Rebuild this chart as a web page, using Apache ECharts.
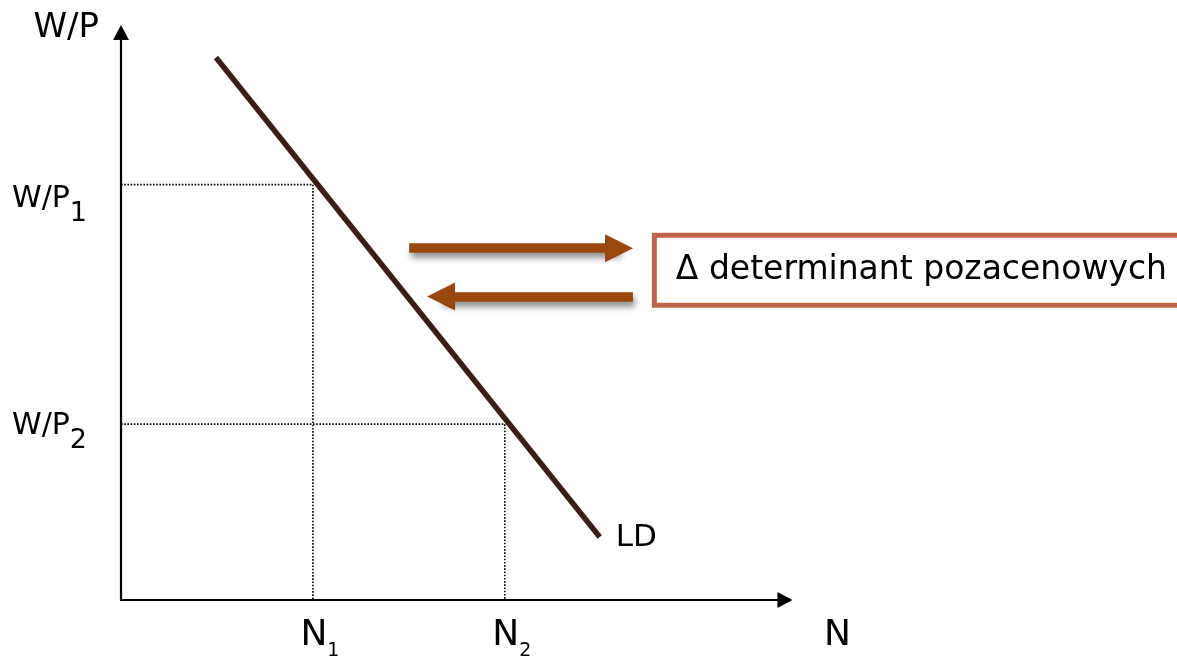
<!DOCTYPE html>
<html>
<head>
<meta charset="utf-8">
<script src="https://cdn.jsdelivr.net/npm/echarts@6/dist/echarts.min.js"></script>
<style>
  html, body { margin: 0; padding: 0; background: #ffffff; }
  #chart { width: 1177px; height: 659px; }
</style>
</head>
<body>
<div id="chart"></div>
<script>
// ---- data (abstract units: N on x 0..100, W/P on y 0..100) ----
const ldCurve = [[14.3, 95.6], [72.1, 11.1]];      // LD line endpoints
const wageLevels = [73.2, 31.0];                    // W/P1, W/P2
const employmentLevels = [28.9, 57.8];              // N1, N2
const levelIndex = ['1', '2'];                      // subscripts
const arrowRight = [[43.4, 62.0], [75.0, 62.0]];
const arrowLeft = [[77.1, 53.5], [48.2, 53.5]];
const boxAnchor = [80.7, 58.1];
const boxText = '\u0394 determinant pozacenowych';
const axisNames = ['W/P', 'N'];
const curveName = 'LD';

const FONT = 'DejaVu Sans';
const INK = '#000000';

// dotted guide lines
const guideSeries = wageLevels.map((w, i) => ({
  type: 'line',
  data: [[0, w], [employmentLevels[i], w], [employmentLevels[i], 0]],
  symbol: 'none',
  silent: true,
  lineStyle: { color: '#000', width: 1.6, type: [1.6, 1.6] },
  z: 2
}));

function plain(text, size, align, offset) {
  return {
    formatter: text, position: [0, 0], align: align, verticalAlign: 'middle',
    offset: offset, fontSize: size, fontFamily: FONT, color: INK,
    textBorderWidth: 0, opacity: 1
  };
}

// label anchors
const labelData = [];
labelData.push({ value: [0, 100], label: plain(axisNames[0], 34, 'right', [-22, -4]) });
const wpOffsets = [21.5, 9];
wageLevels.forEach((w, i) => {
  labelData.push({
    value: [0, w],
    label: {
      formatter: '{m|W/P}{s|' + levelIndex[i] + '}',
      position: [0, 0], align: 'left', verticalAlign: 'middle',
      offset: [-109, wpOffsets[i]], color: INK, textBorderWidth: 0, opacity: 1,
      rich: {
        m: { fontFamily: FONT, fontSize: 30, lineHeight: 30, color: INK, padding: [0, 0, 13.5, 0] },
        s: { fontFamily: FONT, fontSize: 27, lineHeight: 27, color: INK, padding: [16.5, 0, 0, 0] }
      }
    }
  });
});
employmentLevels.forEach((n, i) => {
  labelData.push({
    value: [n, 0],
    label: {
      formatter: '{m|N}{s|' + levelIndex[i] + '}',
      position: [0, 0], align: 'left', verticalAlign: 'middle',
      offset: [-12.5, 39], color: INK, textBorderWidth: 0, opacity: 1,
      rich: {
        m: { fontFamily: FONT, fontSize: 36, lineHeight: 36, color: INK, padding: [0, 0, 6.5, 0] },
        s: { fontFamily: FONT, fontSize: 19, lineHeight: 19, color: INK, padding: [23.5, 0, 0, 0] }
      }
    }
  });
});
labelData.push({ value: [100, 0], label: plain(axisNames[1], 36, 'center', [52.5, 36]) });
labelData.push({ value: ldCurve[1], label: plain(curveName, 31, 'left', [16, 1]) });
labelData.push({
  value: boxAnchor,
  label: Object.assign(plain(boxText, 33, 'left', [0, 0]), {
    lineHeight: 33, height: 33, width: 560,
    padding: [16, 0, 16, 19],
    backgroundColor: '#ffffff', borderColor: '#c0634a', borderWidth: 5
  })
});

const chart = echarts.init(document.getElementById('chart'), null, { renderer: 'canvas' });
chart.setOption({
  animation: false,
  backgroundColor: '#ffffff',
  grid: { left: 121, right: 392, top: 32.5, bottom: 59, containLabel: false },
  xAxis: {
    type: 'value', min: 0, max: 100,
    axisLine: { show: true, onZero: false, symbol: ['none', 'triangle'], symbolSize: [16, 15],
      lineStyle: { color: '#000', width: 2.2 } },
    axisTick: { show: false }, axisLabel: { show: false }, splitLine: { show: false }
  },
  yAxis: {
    type: 'value', min: 0, max: 100,
    axisLine: { show: true, onZero: false, symbol: ['none', 'triangle'], symbolSize: [16, 15],
      lineStyle: { color: '#000', width: 2.2 } },
    axisTick: { show: false }, axisLabel: { show: false }, splitLine: { show: false }
  },
  series: [
    ...guideSeries,
    {
      type: 'line',
      data: ldCurve,
      symbol: 'none',
      silent: true,
      lineStyle: { color: '#3b1f17', width: 5.5, cap: 'butt' },
      z: 3
    },
    {
      type: 'lines',
      coordinateSystem: 'cartesian2d',
      silent: true,
      symbol: ['none', 'triangle'],
      symbolSize: 28,
      lineStyle: {
        color: '#9a470d', width: 9.5, opacity: 1, curveness: 0,
        shadowBlur: 6, shadowColor: 'rgba(0,0,0,0.45)', shadowOffsetX: 2, shadowOffsetY: 5
      },
      data: [{ coords: arrowRight }, { coords: arrowLeft }],
      z: 4
    },
    {
      type: 'scatter',
      symbolSize: 0,
      silent: true,
      clip: false,
      itemStyle: { color: 'transparent', opacity: 1 },
      label: { show: true, fontFamily: FONT, color: INK, textBorderWidth: 0, opacity: 1 },
      data: labelData,
      z: 5
    }
  ]
});
</script>
</body>
</html>
